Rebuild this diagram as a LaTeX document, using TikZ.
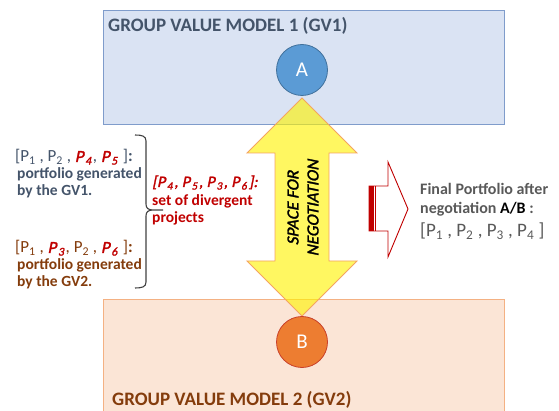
\documentclass[tikz,border=0pt]{standalone}
\usepackage{fontspec}
\setmainfont{Carlito}[
  ItalicFont=Carlito, ItalicFeatures={FakeSlant=0.2},
  BoldItalicFont=Carlito, BoldItalicFeatures={FakeSlant=0.2, FakeBold=1.6}]
\definecolor{gvblue}{HTML}{DAE3F3}
\definecolor{gvblueline}{HTML}{7F9CCB}
\definecolor{gvorange}{HTML}{FBE5D6}
\definecolor{gvorangeline}{HTML}{F4B183}
\definecolor{slate}{HTML}{44546A}
\definecolor{brownish}{HTML}{843C0C}
\definecolor{deepred}{HTML}{C00000}
\definecolor{midgrey}{HTML}{595959}
\definecolor{badgeA}{HTML}{5B9BD5}
\definecolor{badgeAline}{HTML}{41719C}
\definecolor{badgeB}{HTML}{ED7D31}
\definecolor{badgeBline}{HTML}{C9402A}
\definecolor{arrowline}{HTML}{F4A460}
\newcommand{\Pn}[1]{P\textsubscript{#1}}
\newcommand{\Ps}[1]{P\kern1.5pt\textsubscript{#1}\kern1.2pt}
\newcommand{\Rp}[1]{\textcolor{deepred}{\textbf{\textit{\Ps{#1}}}}}
\begin{document}
\begin{tikzpicture}[x=1pt,y=-1pt,
  gvbox/.style={draw, line width=0.8pt, anchor=north west, inner sep=0pt},
  badge/.style={circle, draw, line width=0.8pt, minimum size=51pt, inner sep=0pt,
    text=white, font=\fontsize{21}{21}\selectfont},
  title/.style={anchor=base west, inner sep=0pt, font=\fontsize{19}{19}\selectfont\bfseries},
  txt/.style={anchor=base west, inner sep=0pt, font=\fontsize{15.5}{15.5}\selectfont\bfseries},
  list/.style={anchor=base west, inner sep=0pt, font=\fontsize{17}{17}\selectfont}]
\useasboundingbox (0,0) rectangle (559,411);

% the two group value models
\node[gvbox, draw=gvblueline, fill=gvblue, minimum width=401pt, minimum height=114pt] (gv1) at (103,10) {};
\node[gvbox, draw=gvorangeline, fill=gvorange, minimum width=401pt, minimum height=120pt] (gv2) at (103,299) {};
\node[title, text=slate] (t1) at (108,32) {GROUP VALUE MODEL 1 (GV1)};
\node[title, text=brownish] (t2) at (112,405) {GROUP VALUE MODEL 2 (GV2)};

% negotiation double arrow between A and B
\fill[yellow, fill opacity=0.62] (302,98) -- (357,153) -- (329,153) -- (329,261) -- (357,261)
  -- (302,316) -- (247,261) -- (275,261) -- (275,153) -- (247,153) -- cycle;
\draw[arrowline, line width=0.9pt, line join=miter] (302,98) -- (357,153) -- (329,153) -- (329,261) -- (357,261)
  -- (302,316) -- (247,261) -- (275,261) -- (275,153) -- (247,153) -- cycle;
\node[rotate=90, align=center, inner sep=0pt,
  font=\fontsize{17}{20}\selectfont\bfseries\itshape] (space) at (303,208) {SPACE FOR\\NEGOTIATION};

\node[badge, fill=badgeA, draw=badgeAline] (A) at (302,70) {A};
\node[badge, fill=badgeB, draw=badgeBline] (B) at (302,342) {B};

% portfolios of each group
\node[list, text=slate] (p1) at (15,162) {[\Pn{1} , \Pn{2} , \Rp{4}, \Rp{5} ]\textbf{:}};
\node[txt, text=slate] (p1a) at (17,179) {portfolio generated};
\node[txt, text=slate] (p1b) at (17,196) {by the GV1.};
\node[list, text=brownish] (p2) at (15,253) {[\Pn{1} , \Rp{3}, \Pn{2} , \Rp{6} ]\textbf{:}};
\node[txt, text=brownish] (p2a) at (17,270) {portfolio generated};
\node[txt, text=brownish] (p2b) at (17,287) {by the GV2.};

% brace joining both portfolios
\draw[black!75, line width=1.1pt]
  (135,135) .. controls (142,135) and (146,136) .. (146,141) -- (146,204)
  .. controls (146,208) and (148,210) .. (153,210) -- (163,210)
  (153,210) .. controls (148,210) and (146,212) .. (146,216) -- (146,282)
  .. controls (146,287) and (142,288) .. (135,288);

% divergent projects
\node[anchor=base west, inner sep=0pt, text=deepred,
  font=\fontsize{16}{16}\selectfont\bfseries\itshape] (div) at (152,187)
  {[\Ps{4}, \Ps{5}, \Ps{3}, \Ps{6}]:};
\node[txt, text=deepred] (div1) at (152,206) {set of divergent};
\node[txt, text=deepred] (div2) at (152,223) {projects};

% outcome arrow
\draw[deepred, line width=0.9pt, fill=white, line join=miter]
  (369,186) -- (388,186) -- (388,162) -- (408,209) -- (388,257) -- (388,231) -- (369,231) -- cycle;
\fill[deepred] (369,186) rectangle (373.5,231);
\fill[deepred] (374.5,186) rectangle (376,231);

% final portfolio
\node[anchor=base west, inner sep=0pt, text=midgrey,
  font=\fontsize{16}{16}\selectfont\bfseries] (f1) at (420,195) {Final Portfolio after};
\node[anchor=base west, inner sep=0pt, text=midgrey,
  font=\fontsize{16}{16}\selectfont\bfseries] (f2) at (420,214) {negotiation \textcolor{black}{A/B} :};
\node[list, text=midgrey, font=\fontsize{19}{19}\selectfont] (f3) at (420,237) {[\Pn{1} , \Pn{2} , \Pn{3} , \Pn{4} ]};
\end{tikzpicture}
\end{document}
